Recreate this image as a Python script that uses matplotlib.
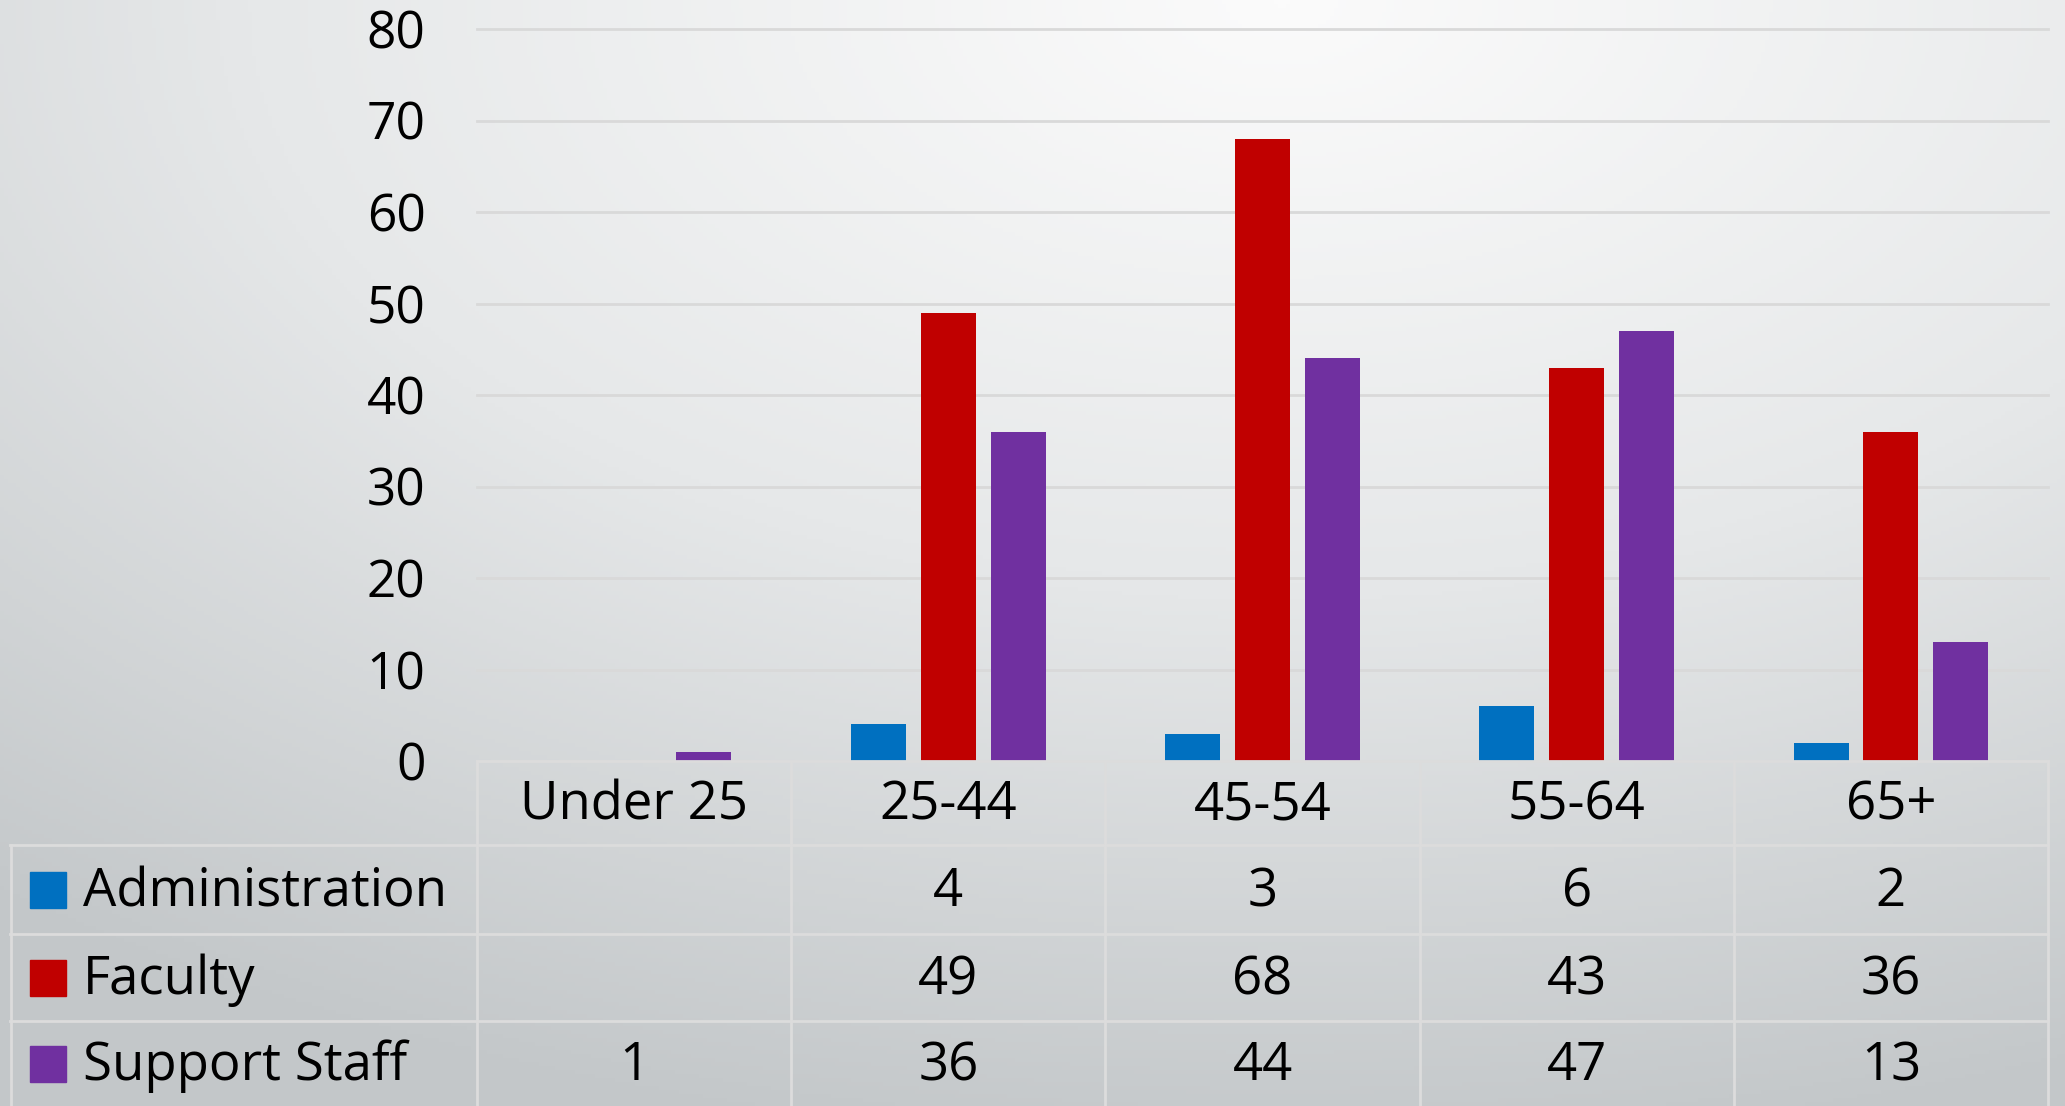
import numpy as np
import matplotlib
matplotlib.use("Agg")
import matplotlib.pyplot as plt
from matplotlib.colors import LinearSegmentedColormap

categories = ["Under 25", "25-44", "45-54", "55-64", "65+"]
series_names = ["Administration", "Faculty", "Support Staff"]
administration = [np.nan, 4, 3, 6, 2]
faculty = [np.nan, 49, 68, 43, 36]
support_staff = [1, 36, 44, 47, 13]
yticks = [0, 10, 20, 30, 40, 50, 60, 70, 80]

colors = ["#0070C0", "#C00000", "#7030A0"]
series = [administration, faculty, support_staff]

plt.rcParams['font.family'] = ['Open Sans', 'DejaVu Sans']

W, H = 2065, 1106
fig = plt.figure(figsize=(W / 100, H / 100), dpi=100)

# background gradient
bg = fig.add_axes([0, 0, 1, 1], zorder=-10)
yy, xx = np.mgrid[0:H:4, 0:W:4]
cx, cy = 0.62 * W, 0.0 * H
d = np.sqrt(((xx - cx) / (1.0 * W)) ** 2 + ((yy - cy) / (1.05 * H)) ** 2)
d = np.clip(d / 1.0, 0, 1)
cmap = LinearSegmentedColormap.from_list("bg", ["#fbfbfb", "#e6e8e9", "#c3c7c9"])
bg.imshow(d, cmap=cmap, vmin=0, vmax=1, aspect="auto", extent=[0, W, H, 0])
bg.axis("off")

# main chart
left, right, top, bottom = 477, 2048, 29, 761
ax = fig.add_axes([left / W, 1 - bottom / H, (right - left) / W, (bottom - top) / H])
ax.set_facecolor("none")
x = np.arange(len(categories))
bw = 0.175
step = 0.222
for i, (vals, c) in enumerate(zip(series, colors)):
    ax.bar(x + (i - 1) * step, vals, width=bw, color=c, zorder=3)
ax.set_xlim(-0.5, len(categories) - 0.5)
ax.set_ylim(0, 80)
ax.set_yticks(yticks)
ax.set_yticklabels([str(t) for t in yticks], fontsize=37)
ax.tick_params(axis="y", length=0, pad=37)
ax.set_xticks([])
for t in yticks[1:]:
    ax.axhline(t, color="#d9d9d9", lw=2, zorder=1, clip_on=False)
for s in ax.spines.values():
    s.set_visible(False)

# data table
tl = 10
cat_px = (right - left) / len(categories)
tax = fig.add_axes([tl / W, 0, (right - tl) / W, (H - bottom) / H])
tax.set_facecolor("none")
xmin = -0.5 - (left - tl) / cat_px
tax.set_xlim(xmin, len(categories) - 0.5)
tax.set_ylim(H, bottom)
tax.axis("off")
rows = [761, 845, 934, 1021, 1106]
lc = "#dcdcdc"
lw = 2
# horizontal lines
tax.plot([-0.5, 4.5], [rows[0], rows[0]], color=lc, lw=lw, clip_on=False)
for r in rows[1:4]:
    tax.plot([xmin, 4.5], [r, r], color=lc, lw=lw, clip_on=False)
# vertical lines
for b in np.arange(-0.5, 5.0, 1.0):
    tax.plot([b, b], [rows[0], H], color=lc, lw=lw, clip_on=False)
tax.plot([xmin + 0.003, xmin + 0.003], [rows[1], H], color=lc, lw=lw, clip_on=False)

fs = 38
for j, c in enumerate(categories):
    tax.text(j, (rows[0] + rows[1]) / 2 + 3, c, ha="center", va="center", fontsize=fs, color="black")
sq_px = 36
for i, (name, vals, col) in enumerate(zip(series_names, series, colors)):
    yc = (rows[i + 1] + rows[i + 2]) / 2
    x0 = xmin + (30 - tl) / cat_px
    tax.add_patch(plt.Rectangle((x0, yc - sq_px / 2), sq_px / cat_px, sq_px, color=col, clip_on=False))
    tax.text(xmin + (83 - tl) / cat_px, yc + 3, name, ha="left", va="center", fontsize=fs, color="black")
    for j, v in enumerate(vals):
        if not np.isnan(v):
            tax.text(j, yc + 3, f"{int(v)}", ha="center", va="center", fontsize=fs, color="black")

fig.savefig("out.png", dpi=100)
